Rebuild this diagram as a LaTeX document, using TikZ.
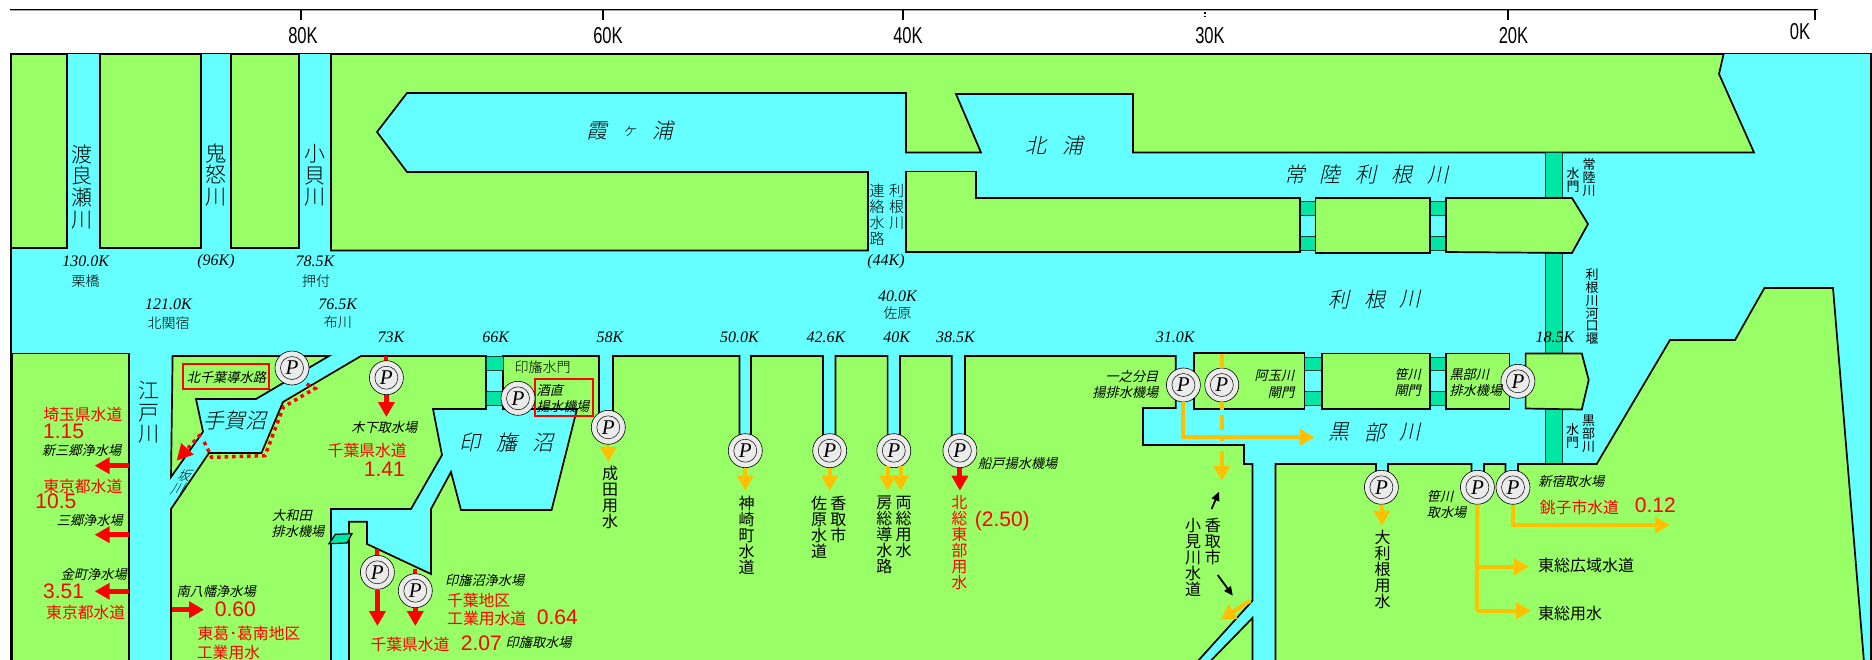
\documentclass[tikz,border=0pt]{standalone}
\usepackage{fontspec}
\usetikzlibrary{arrows.meta}
\newfontfamily\jp{Noto Sans CJK JP}
\newfontfamily\jpl{Noto Sans CJK JP Light}
\newfontfamily\jpit[FakeSlant=0.22]{Noto Sans CJK JP}
\newfontfamily\jplit[FakeSlant=0.22]{Noto Sans CJK JP Light}
\newfontfamily\jpsl[FakeSlant=0.55]{Noto Sans CJK JP Light}
\newfontfamily\num{Liberation Sans}
\newfontfamily\ser{Liberation Serif}
\definecolor{land}{HTML}{99FF66}
\definecolor{water}{HTML}{66FFFF}
\definecolor{gatec}{HTML}{00E6A5}
\definecolor{orangec}{HTML}{FFC000}
\tikzset{
 x=1pt,y=-1pt,
 landp/.style={draw=black,line width=1.7pt,fill=land,line join=miter},
 gatep/.style={draw=black!70!gatec,line width=1pt,fill=gatec},
 pump/.style={circle,draw=black,line width=.6pt,fill=black!8,minimum size=34pt,inner sep=0pt,
   path picture={\draw[line width=.5pt] (path picture bounding box.center) circle (11.5pt);},
   font=\ser\itshape\fontsize{21}{21}\selectfont},
 ra/.style={draw=red,line width=5pt,-{Triangle[width=16pt,length=15pt]}},
 oa/.style={draw=orangec,line width=4pt,-{Triangle[width=16pt,length=15pt]}},
 ol/.style={draw=orangec,line width=4pt},
 rl/.style={draw=red,line width=5pt},
 ka/.style={draw=black,line width=1.8pt,-{Triangle[width=8pt,length=9pt]}},
 box/.style={draw=red,line width=2pt},
 lab/.style={inner sep=0pt,font=\jpit\fontsize{13.2}{15}\selectfont},
 rv/.style={inner sep=0pt,font=\jpl\fontsize{21}{21.7}\selectfont,align=center},
 big/.style={inner sep=0pt,font=\jplit\fontsize{21}{21}\selectfont},
 blk/.style={inner sep=0pt,font=\jp\fontsize{16}{16}\selectfont,align=center},
 sm/.style={inner sep=0pt,font=\jp\fontsize{13}{12.9}\selectfont,align=center},
 md/.style={inner sep=0pt,font=\jpl\fontsize{15}{16}\selectfont,align=center},
 rt/.style={inner sep=0pt,text=red,font=\jp\fontsize{15.8}{16}\selectfont,align=center},
 rn/.style={inner sep=0pt,text=red,font=\num\fontsize{21}{21}\selectfont},
 km/.style={inner sep=0pt,font=\ser\itshape\fontsize{16}{16}\selectfont},
 pl/.style={inner sep=0pt,font=\jpl\fontsize{14}{14}\selectfont},
 sc/.style={inner sep=0pt,font=\num\fontsize{23}{23}\selectfont,xscale=.72},
}
\begin{document}
\begin{tikzpicture}
\useasboundingbox (0,0) rectangle (1872,659);
\begin{scope}
\clip (0,0) rectangle (1872,659);
% scale
\draw[line width=1pt,black!35] (10,10.8) -- (1816,10.8);
\draw[line width=1.3pt] (10,9.5) -- (1818,9.5);
\coordinate (t80a) at (301,9); \coordinate (t80b) at (301,20);
\coordinate (t60a) at (603,9); \coordinate (t60b) at (603,20);
\coordinate (t40a) at (903,9); \coordinate (t40b) at (903,20);
\coordinate (t20a) at (1508,9); \coordinate (t20b) at (1508,20);
\coordinate (t0a) at (1815,9); \coordinate (t0b) at (1815,20);
\coordinate (t30a) at (1205,12); \coordinate (t30b) at (1205,18);
\foreach \n in {80,60,40,20,0}{\draw[line width=1.3pt] (t\n a) -- (t\n b);}
\draw[line width=1.3pt,dash pattern=on 1.5pt off 2pt] (t30a) -- (t30b);
\node[sc] (s80) at (303,36) {80K};
\node[sc] (s60) at (608,36) {60K};
\node[sc] (s40) at (908,36) {40K};
\node[sc] (s30) at (1210,36) {30K};
\node[sc] (s20) at (1513.5,36) {20K};
\node[sc] (s0) at (1800,32) {0K};
% water
\fill[water] (11,53) rectangle (1871,660);
% upper land
\draw[landp] (11,54) rectangle (67,248);
\draw[landp] (100,54) rectangle (201,248);
\draw[landp] (231,54) rectangle (299,248);
\draw[landp] (331,54) -- (1723.6,54) -- (1719,74) -- (1754,152.5) -- (1133,152.5) -- (1133,94) -- (956,94) -- (981,152.5) -- (906,152.5) -- (906,93) -- (407,93) -- (377,132) -- (407,172) -- (868,172) -- (868,250.5) -- (331,250.5) -- cycle;
% gates behind
\draw[gatep] (1545,152.5) rectangle (1562,198);
\draw[gatep] (1545,253) rectangle (1562,464);
\draw[gatep] (1300,201) rectangle (1315.5,215);
\draw[gatep] (1300,236) rectangle (1315.5,250);
\draw[gatep] (1430,201) rectangle (1446,215.5);
\draw[gatep] (1430,236.5) rectangle (1446,250.5);
\draw[landp] (906,171.5) -- (976,171.5) -- (976,198) -- (1300,198) -- (1300,252) -- (906,252) -- cycle;
\draw[landp] (1315.5,198) rectangle (1430,253);
\draw[landp] (1446,198) -- (1572,198) -- (1588,224) -- (1572,253) -- (1446,252) -- cycle;
% left land
\draw[landp] (12,353.5) -- (129,353.5) -- (129,662) -- (12,662) -- cycle;
\draw[landp] (172.6,356) -- (329,356) -- (256,399) -- (196,399) -- (203,431.7) -- (171,477) -- cycle;
\draw[landp] (361,356) -- (486,356) -- (486,409) -- (433,409) -- (442,455) -- (411,509) -- (331,509) -- (331,662) -- (171,662) -- (171,509) -- (209,453) -- (261.5,453) -- (283,402) -- cycle;
% main south land with notches
\draw[landp] (349,662) -- (349,521.7) -- (367,521.7) -- (367,544) -- (431,574) -- (431,509) -- (451,472) -- (461,510) -- (551.6,510) -- (577,409) -- (503,409) -- (503,356) -- (599,356) -- (599,425) -- (613,425) -- (613,356)
 -- (739.5,356) -- (739.5,450) -- (751,450) -- (751,356)
 -- (823,356) -- (823,450) -- (835.4,450) -- (835.4,356)
 -- (887.6,356) -- (887.6,450) -- (900,450) -- (900,356)
 -- (951.7,356) -- (951.7,450) -- (965,450) -- (965,356)
 -- (1175.7,356) -- (1175.7,408) -- (1143,408) -- (1143,445) -- (1244,445) -- (1244,464) -- (1252.4,464) -- (1252.4,600.7) -- (1197,662) -- cycle;
\draw[landp] (1252.4,618) -- (1252.4,662) -- (1209.6,662) -- cycle;
% kurobe islands
\foreach \xa/\xb in {1304.6/1322,1430/1446}{
 \draw[gatep] (\xa,357) rectangle (\xb,370.7);
 \draw[gatep] (\xa,391.7) rectangle (\xb,405.3);}
\draw[gatep] (486.3,356.7) rectangle (503,370);
\draw[gatep] (486.3,391.7) rectangle (503,405.7);
\draw[landp] (1194,353.3) rectangle (1304.6,409);
\draw[landp] (1322,353.5) rectangle (1430,409);
\draw[landp] (1446,353.5) rectangle (1509.4,409);
\draw[landp] (1525.6,353.5) -- (1581.8,353.5) -- (1588.7,380) -- (1581.8,409.5) -- (1525.6,408.5) -- cycle;
% south-east land
\draw[landp] (1275.5,662) -- (1275.5,464) -- (1376,464) -- (1376,487) -- (1388,487) -- (1388,464) -- (1471.5,464) -- (1471.5,487) -- (1484,487) -- (1484,464) -- (1505.4,464) -- (1505.4,487) -- (1518,487) -- (1518,464) -- (1596.7,464) -- (1670,340) -- (1735,340) -- (1764.4,288) -- (1833,288) -- (1864,662) -- cycle;
% gate parallelogram
\draw[gatep,draw=black,line width=1.2pt] (329,543.7) -- (347,543) -- (352,533.7) -- (335.4,534.3) -- cycle;
% frame
\draw[line width=1.9pt] (11,660) -- (11,53.5) -- (1871,53.5) -- (1871,660);
% red boxes
\draw[box] (183.2,364.3) rectangle (269,388.7);
\draw[box] (534.5,379) rectangle (593.2,415.7);
% stubs, coordinates
\coordinate (tk2) at (386.4,356); \coordinate (hk2) at (386.4,417);
\coordinate (tk5) at (377.4,549); \coordinate (hk5) at (377.4,626);
\coordinate (tk6) at (415.3,569); \coordinate (hk6) at (415.3,626);
\draw[rl,line width=4pt] (tk2) -- (386.4,362);
\draw[rl,line width=4pt] (tk5) -- (377.4,556);
\draw[rl,line width=4pt] (tk6) -- (415.3,575);
% dotted water route
\coordinate (d0) at (306.7,384); \coordinate (d1) at (315,388.5); \coordinate (d2) at (283.4,407);
\coordinate (d3) at (265,455.7); \coordinate (d4) at (211.7,457.3); \coordinate (d5) at (203.3,440); \coordinate (d5b) at (200.5,434.5); \coordinate (d6) at (176.7,460.7);
\draw[red,line width=3.5pt,dash pattern=on 3.5pt off 4pt] (d0) -- (d1) -- (d2) -- (d3) -- (d4) -- (d5);
\draw[red,line width=3.5pt,dash pattern=on 3.5pt off 4pt,-{Triangle[width=16pt,length=16pt]}] (d5b) -- (d6);
% pumps
\foreach \nn/\px/\py in {p1/292/368,p2/386.4/377.7,p3/518/398.3,p4/608.3/427.3,p5/377.4/572.3,p6/415.3/590.7,p7/745.3/450.7,p8/829.7/450.7,p9/893.8/450.7,p10/959.9/450.7,p11/1183.4/385,p12/1221.8/385,p13/1517.9/381.3,p14/1381.4/487.3,p15/1477.4/487.3,p16/1513/487.3}{
 \node[pump] (\nn) at (\px,\py) {P};}
% arrows
\draw[ra] (p2) -- (hk2);
\draw[ra] (p5) -- (hk5);
\draw[ra] (p6) -- (hk6);
\coordinate (a1s) at (128.5,465.7); \coordinate (a1e) at (94.7,465.7);
\coordinate (a2s) at (128.5,534.7); \coordinate (a2e) at (94.7,534.7);
\coordinate (a3s) at (128.5,591.3); \coordinate (a3e) at (94.7,591.3);
\coordinate (a4s) at (172,609.7); \coordinate (a4e) at (204,609.7);
\draw[ra] (a1s) -- (a1e);
\draw[ra] (a2s) -- (a2e);
\draw[ra] (a3s) -- (a3e);
\draw[ra] (a4s) -- (a4e);
\coordinate (h4) at (608.3,462); \coordinate (h7) at (745.3,490.7); \coordinate (h8) at (829.7,490.7);
\coordinate (h9a) at (887.6,490.7); \coordinate (h9b) at (900.7,490.7); \coordinate (h10) at (959.9,490.7);
\draw[oa] (p4) -- (h4);
\draw[oa] (p7) -- (h7);
\draw[oa] (p8) -- (h8);
\coordinate (s9a) at (887.6,466); \coordinate (s9b) at (900.7,466);
\draw[oa] (s9a) -- (h9a);
\draw[oa] (s9b) -- (h9b);
\draw[ra] (p10) -- (h10);
% orange branches
\coordinate (c11) at (1183.4,437.3); \coordinate (h11) at (1314.7,437.3);
\draw[oa] (p11) -- (c11) -- (h11);
\coordinate (t12) at (1221.8,354); \coordinate (h12) at (1221.8,481);
\draw[ol] (t12) -- (p12);
\draw[ol,-{Triangle[width=16pt,length=15pt]},dash pattern=on 8pt off 5pt on 15pt off 6pt on 5pt off 10pt on 20pt off 0pt] (p12) -- (h12);
\coordinate (l1) at (1250.4,600.7); \coordinate (l2) at (1220.6,619.7);
\draw[oa] (l1) -- (l2);
\coordinate (k1a) at (1211.6,509); \coordinate (k1b) at (1219,491.7);
\coordinate (k2a) at (1217.7,575); \coordinate (k2b) at (1232.8,595.7);
\draw[ka] (k1a) -- (k1b);
\draw[ka] (k2a) -- (k2b);
\coordinate (h14) at (1382,525.7);
\draw[oa] (p14) -- (h14);
\coordinate (c15a) at (1476.7,566.7); \coordinate (c15b) at (1476.7,610.7);
\coordinate (h15a) at (1528.9,566.7); \coordinate (h15b) at (1531,610.7);
\draw[ol] (p15) -- (c15b);
\draw[oa] (c15a) -- (h15a);
\draw[oa] (c15b) -- (h15b);
\coordinate (c16) at (1513,525); \coordinate (h16) at (1670,525);
\draw[oa] (p16) -- (c16) -- (h16);
% river names
\node[rv] (n1) at (81.6,186.7) {渡\\良\\瀬\\川};
\node[rv] (n2) at (216,175) {鬼\\怒\\川};
\node[rv] (n3) at (314.6,175.5) {小\\貝\\川};
\node[rv] (n4) at (149.3,412.3) {江\\戸\\川};
\node[inner sep=0pt,font=\jpsl\fontsize{13}{13}\selectfont] (n5a) at (182.7,476) {坂};
\node[inner sep=0pt,font=\jpsl\fontsize{13}{13}\selectfont] (n5b) at (176,488.5) {川};
\node[big] (l1a) at (597,130.7) {霞}; \node[big,font=\jplit\fontsize{15}{15}\selectfont] (l1b) at (629.5,132) {ヶ}; \node[big] (l1c) at (663,130.5) {浦};
\node[big] (l2a) at (1036,145.7) {北}; \node[big] (l2b) at (1073,145.7) {浦};
\foreach \c/\x in {常/1295.3,陸/1329.7,利/1366,根/1401.6,川/1438}{\node[big] at (\x,174.7) {\c};}
\foreach \c/\x in {利/1339,根/1374.5,川/1409.7}{\node[big] at (\x,299.3) {\c};}
\foreach \c/\x in {黒/1339,部/1374.5,川/1409.7}{\node[big] at (\x,432.3) {\c};}
\foreach \c/\x in {印/470,旛/506.7,沼/542.6}{\node[big] at (\x,442.3) {\c};}
\node[big] (tg) at (235.4,420.7) {手賀沼};
% km labels
\foreach \t/\x/\y in {130.0K/85.7/261.7,(96K)/216/261.7,78.5K/315/261.7,121.0K/168.5/304.3,76.5K/337.8/304.3,73K/391/337.3,66K/495.7/337.3,58K/610/337.3,50.0K/739.5/337.3,42.6K/826/337.3,40K/896.6/337.3,38.5K/955.4/337.3,31.0K/1175.3/337.3,18.5K/1555/337.3,40.0K/897.4/296.7,(44K)/886/261.7}{
 \node[km] at (\x,\y) {\t};}
\node[pl] at (85.7,281) {栗橋};
\node[pl] at (316,281) {押付};
\node[pl] at (168.5,322.7) {北関宿};
\node[pl] at (337.8,322.7) {布川};
\node[pl] at (897.4,313.3) {佐原};
\node[md] at (877,214.5) {連\\絡\\水\\路};
\node[md] at (896.6,207) {利\\根\\川};
\node[sm] at (1589,177.5) {常\\陸\\川};
\node[sm] at (1573,180) {水\\門};
\node[sm] at (1592,306.7) {利\\根\\川\\河\\口\\堰};
\node[sm] at (1588.6,434) {黒\\部\\川};
\node[sm] at (1572.5,436) {水\\門};
% italic labels
\node[pl] at (542.6,367.3) {印旛水門};
\node[lab,anchor=west] at (536.5,390) {酒直};
\node[lab] at (563,406.3) {揚水機場};
\node[lab] at (226.4,377.3) {北千葉導水路};
\node[lab] at (384.3,428) {木下取水場};
\node[lab] at (81.6,450) {新三郷浄水場};
\node[lab] at (89.8,520) {三郷浄水場};
\node[lab] at (93.8,574.7) {金町浄水場};
\node[lab] at (216.2,591.3) {南八幡浄水場};
\node[lab,anchor=west] at (272,515.7) {大和田};
\node[lab] at (298,531.3) {排水機場};
\node[lab] at (484.7,580) {印旛沼浄水場};
\node[lab] at (538.6,643) {印旛取水場};
\node[lab] at (1017.8,463.3) {船戸揚水機場};
\node[lab,anchor=east] at (1158.6,376.3) {一之分目};
\node[lab,anchor=east] at (1158.6,392.3) {揚排水機場};
\node[lab,anchor=east] at (1294.5,375.7) {阿玉川};
\node[lab,anchor=east] at (1294.5,392.3) {閘門};
\node[lab] at (1407.7,374.7) {笹川};
\node[lab] at (1407.7,390.7) {閘門};
\node[lab,anchor=west] at (1449.3,374.7) {黒部川};
\node[lab,anchor=west] at (1449.3,390.7) {排水機場};
\node[lab] at (1571.3,481.7) {新宿取水場};
\node[lab,anchor=west] at (1426.6,496.7) {笹川};
\node[lab,anchor=west] at (1426.6,512.3) {取水場};
% red labels
\node[rt] at (82.8,414.7) {埼玉県水道};
\node[rn] at (63.6,431.3) {1.15};
\node[rt] at (82.8,486.3) {東京都水道};
\node[rn] at (55.9,501.3) {10.5};
\node[rn] at (63.6,591.3) {3.51};
\node[rt] at (85.7,612.3) {東京都水道};
\node[rn] at (235.4,609) {0.60};
\node[rt] at (249,633.3) {東葛･葛南地区};
\node[rt] at (228.5,652.3) {工業用水};
\node[rt] at (367.2,450.7) {千葉県水道};
\node[rn] at (384.3,469) {1.41};
\node[rt] at (478.6,600.7) {千葉地区};
\node[rt] at (486.7,619) {工業用水道};
\node[rn] at (557.3,617.7) {0.64};
\node[rt] at (410,644) {千葉県水道};
\node[rn] at (481.4,643) {2.07};
\node[rn] at (1002.3,521.3) {(2.50)};
\node[rt] at (1579.4,507.3) {銚子市水道};
\node[rn] at (1655.3,505.7) {0.12};
\node[rt] at (959.5,543) {北\\総\\東\\部\\用\\水};
% black vertical
\node[blk] at (610,497.7) {成\\田\\用\\水};
\node[blk] at (746.5,535) {神\\崎\\町\\水\\道};
\node[blk] at (838.3,519.3) {香\\取\\市};
\node[blk] at (819,527) {佐\\原\\水\\道};
\node[blk] at (903.6,527) {両\\総\\用\\水};
\node[blk] at (884.4,535) {房\\総\\導\\水\\路};
\node[blk] at (1212.8,541) {香\\取\\市};
\node[blk] at (1193.2,557.7) {小\\見\\川\\水\\道};
\node[blk] at (1382.6,569.5) {大\\利\\根\\用\\水};
\node[blk] at (1586,565.7) {東総広域水道};
\node[blk] at (1570,613.3) {東総用水};
\end{scope}
\end{tikzpicture}
\end{document}
